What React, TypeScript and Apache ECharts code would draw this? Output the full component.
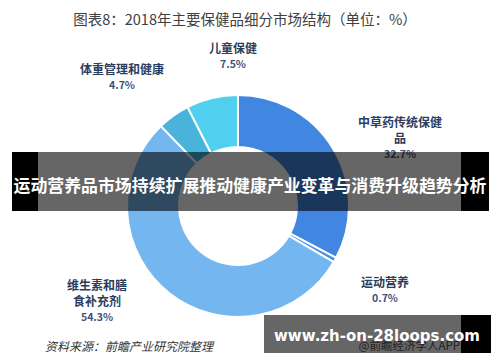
import React, { useEffect, useRef } from "react";
import * as echarts from "echarts";

const CATEGORIES = ["中草药传统保健\n品", "运动营养", "维生素和膳\n食补充剂", "体重管理和健康", "儿童保健"];
const VALUES = [32.7, 0.7, 54.3, 4.7, 7.5];
const COLORS = ["#4187E1", "#4A8FE4", "#74B7F0", "#4AB3DA", "#50CFEE"];
const LABEL_POS: [number, number][] = [
  [400, 137],
  [385, 289],
  [97, 300],
  [122, 76],
  [233, 55],
];
const TITLE = "图表8：2018年主要保健品细分市场结构（单位：%）";
const SOURCE = "资料来源：前瞻产业研究院整理";
const BANNER = "运动营养品市场持续扩展推动健康产业变革与消费升级趋势分析";
const URL = "www.zh-on-28loops.com";
const APP_MARK = "@前瞻经济学人APP";

const FONT = "'Noto Sans CJK SC', 'Noto Sans', sans-serif";

export default function App() {
  const ref = useRef<HTMLDivElement>(null);
  useEffect(() => {
    document.body.style.margin = "0";
    const chart = echarts.init(ref.current!, null, { renderer: "svg" });
    chart.setOption({
      animation: false,
      backgroundColor: "#ffffff",
      textStyle: { fontFamily: FONT },
      series: [
        {
          type: "pie",
          center: [238, 206],
          radius: [59, 111],
          startAngle: 90,
          clockwise: true,
          avoidLabelOverlap: false,
          itemStyle: { borderColor: "#ffffff", borderWidth: 2 },
          labelLine: { show: false },
          label: {
            show: true,
            position: "outside",
            formatter: (p: any) => `{n|${p.name}}\n{v|${p.value}%}`,
            rich: {
              n: { fontSize: 12, fontWeight: "bold", color: "#2B3D5E", lineHeight: 16, fontFamily: FONT },
              v: { fontSize: 10.5, fontWeight: "bold", color: "#3E5178", lineHeight: 15, fontFamily: FONT },
            },
          },
          labelLayout: (params: any) => {
            const p = LABEL_POS[params.dataIndex];
            return { x: p[0], y: p[1], align: "center", verticalAlign: "middle" };
          },
          data: CATEGORIES.map((name, i) => ({ name, value: VALUES[i], itemStyle: { color: COLORS[i] } })),
        },
      ],
      graphic: [
        {
          type: "text",
          x: 245,
          y: 18,
          z: 10,
          style: { text: TITLE, fontSize: 14.5, fill: "#404040", fontFamily: FONT, align: "center", verticalAlign: "middle" },
        },
        {
          type: "text",
          x: 45,
          y: 345,
          z: 10,
          style: { text: SOURCE, fontSize: 12, fontStyle: "italic", fill: "#333333", fontFamily: FONT, align: "left", verticalAlign: "middle" },
        },
        {
          type: "text",
          x: 460,
          y: 345,
          z: 10,
          style: { text: APP_MARK, fontSize: 11.5, fill: "#555555", fontFamily: FONT, align: "right", verticalAlign: "middle" },
        },
        // banner overlay
        { type: "rect", z: 100, shape: { x: 12, y: 152, width: 26, height: 59 }, style: { fill: "#000000" } },
        { type: "rect", z: 100, shape: { x: 38, y: 152, width: 423, height: 59 }, style: { fill: "rgba(0,0,0,0.6)" } },
        { type: "rect", z: 100, shape: { x: 461, y: 152, width: 28, height: 59 }, style: { fill: "#000000" } },
        {
          type: "text",
          x: 250,
          y: 184,
          z: 101,
          style: { text: BANNER, fontSize: 16.9, fontWeight: "bold", fill: "#ffffff", fontFamily: FONT, align: "center", verticalAlign: "middle" },
        },
        // url overlay
        { type: "rect", z: 100, shape: { x: 264, y: 315, width: 197, height: 38 }, style: { fill: "rgba(0,0,0,0.6)" } },
        { type: "rect", z: 100, shape: { x: 461, y: 315, width: 30, height: 38 }, style: { fill: "#000000" } },
        {
          type: "text",
          x: 377,
          y: 336,
          z: 101,
          style: { text: URL, fontSize: 15, fontWeight: "bold", fill: "#ffffff", fontFamily: "'DejaVu Sans', sans-serif", align: "center", verticalAlign: "middle" },
        },
      ],
    });
    return () => chart.dispose();
  }, []);
  return <div ref={ref} style={{ width: 500, height: 362, position: "absolute", left: 0, top: 0 }} />;
}
